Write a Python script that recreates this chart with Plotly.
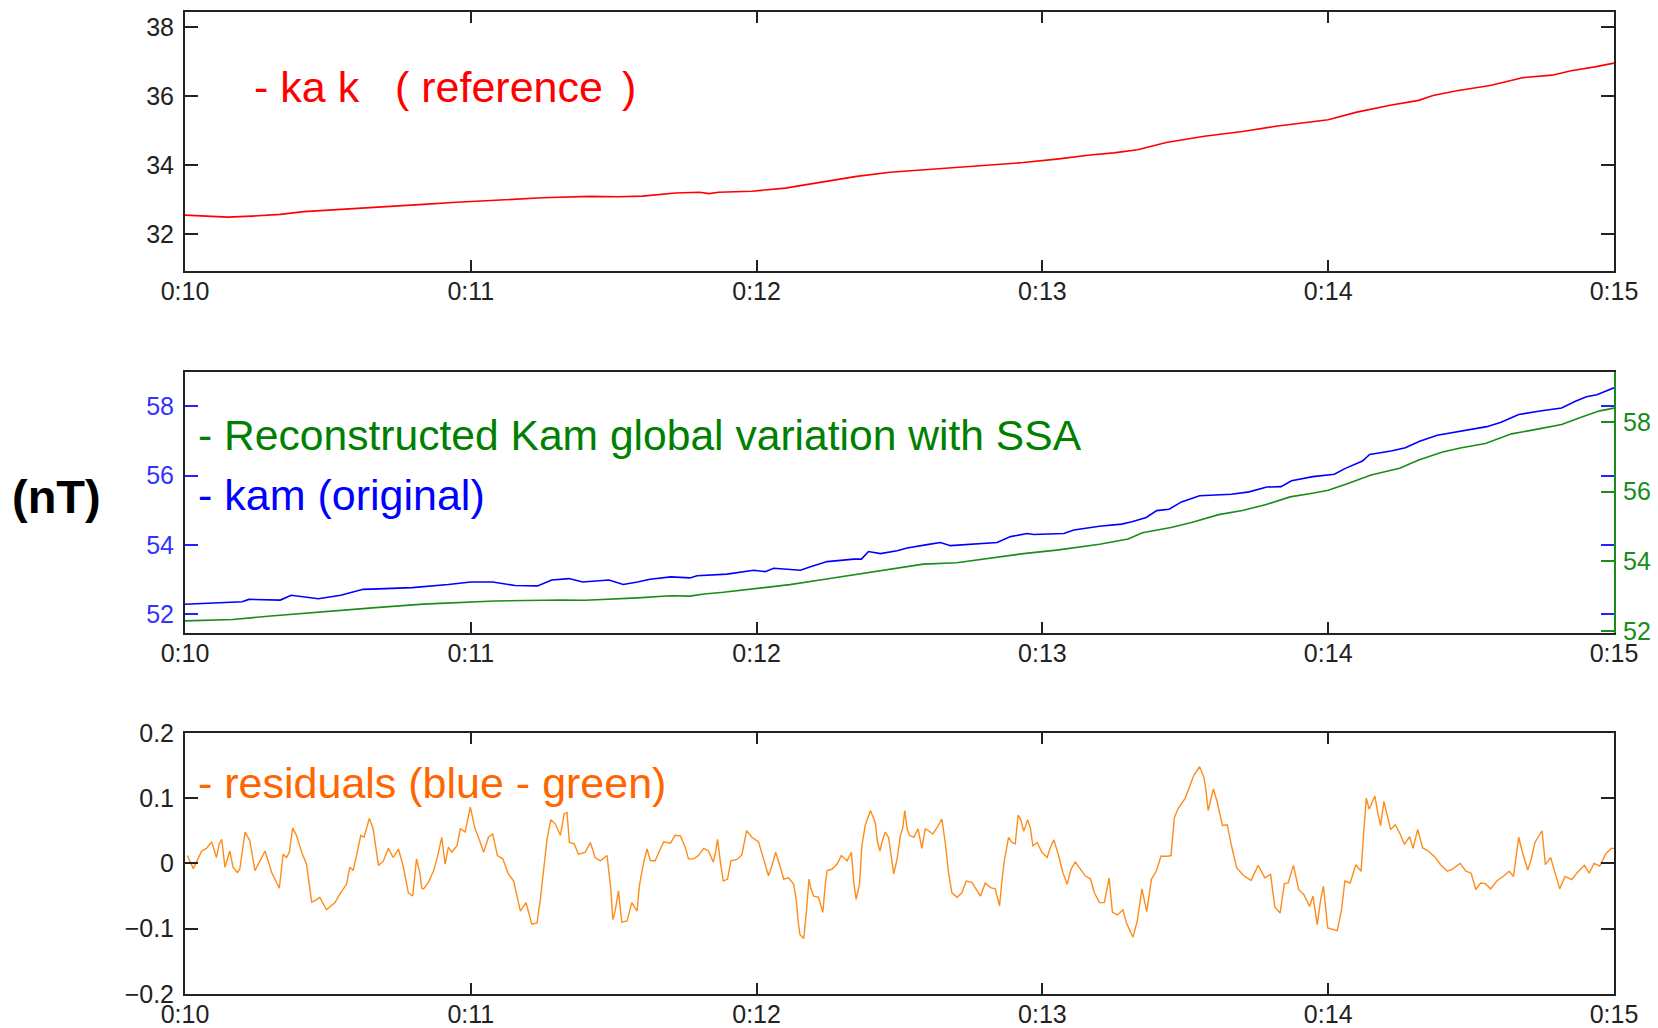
import plotly.graph_objects as go

# ---------------- data (seconds after 0:10, values in nT) ----------------
ref_t = [0, 5, 9, 14, 20, 25, 34, 41, 50, 57, 64, 68, 75, 85, 91, 96, 103, 108, 110, 112,
         119, 126, 134, 141, 148, 157, 166, 176, 183, 190, 195, 200, 206, 214, 222, 229,
         240, 246, 253, 259, 262, 267, 274, 281, 287, 291, 296, 300]
ref_v = [32.56, 32.53, 32.50, 32.53, 32.58, 32.66, 32.73, 32.78, 32.87, 32.93, 32.98, 33.03,
         33.06, 33.10, 33.09, 33.11, 33.20, 33.22, 33.18, 33.22, 33.25, 33.34, 33.51, 33.68,
         33.80, 33.89, 33.99, 34.08, 34.18, 34.30, 34.36, 34.45, 34.66, 34.84, 34.98, 35.13,
         35.32, 35.54, 35.74, 35.88, 36.02, 36.16, 36.31, 36.54, 36.61, 36.74, 36.85, 36.96]

kam_t = [0, 12, 13.4, 20, 22.3, 26, 28, 32.7, 37.4, 42, 47.7, 55.3, 60, 64.6, 69.3, 74, 77,
         80.6, 83.5, 89, 92, 95, 97.6, 102, 106, 107.5, 113.8, 119.4, 121.8, 123.6, 126.4,
         129.2, 131.3, 134.8, 140.4, 142, 143.5, 146, 149.5, 151.6, 155.8, 158.6, 160.7,
         164.2, 170.5, 173.3, 176.8, 178.2, 184.5, 186.6, 192, 196.6, 198.8, 201.8, 204,
         206.6, 209.2, 213, 219.7, 223.4, 227.1, 230.1, 232.3, 236.8, 241.3, 243.5, 247.2,
         248.7, 253.2, 256.2, 259.2, 262.9, 266.6, 269.6, 273.3, 276.3, 280, 284.5, 289,
         291.9, 294.2, 296.4, 300]
kam_v = [52.29, 52.36, 52.43, 52.41, 52.55, 52.48, 52.45, 52.55, 52.72, 52.74, 52.77, 52.86,
         52.93, 52.93, 52.83, 52.82, 52.99, 53.03, 52.93, 52.99, 52.86, 52.93, 53.01, 53.08,
         53.05, 53.11, 53.16, 53.27, 53.23, 53.33, 53.30, 53.27, 53.37, 53.52, 53.59, 53.59,
         53.81, 53.75, 53.83, 53.91, 54.01, 54.07, 53.98, 54.01, 54.07, 54.24, 54.33, 54.30,
         54.33, 54.43, 54.54, 54.60, 54.67, 54.79, 54.99, 55.03, 55.24, 55.42, 55.46, 55.53,
         55.67, 55.68, 55.85, 55.97, 56.04, 56.20, 56.42, 56.61, 56.71, 56.80, 56.99, 57.16,
         57.25, 57.33, 57.41, 57.54, 57.76, 57.86, 57.95, 58.14, 58.27, 58.33, 58.53]

ssa_t = [0, 10, 18, 25, 33, 40, 50, 60, 65, 79, 84, 95, 102, 106, 109, 113, 120, 127, 134,
         141, 148, 155, 162, 169, 176, 183, 190, 192, 198, 201, 207, 211.5, 217, 222, 227,
         232, 237, 240, 244, 249, 255, 259, 264, 268, 273, 278.5, 284.5, 289, 293.4, 297, 300]
ssa_v = [52.29, 52.33, 52.43, 52.51, 52.58, 52.67, 52.77, 52.82, 52.86, 52.89, 52.88, 52.95,
         53.01, 53.00, 53.06, 53.11, 53.23, 53.33, 53.48, 53.63, 53.77, 53.92, 53.96, 54.09,
         54.22, 54.32, 54.44, 54.49, 54.64, 54.82, 54.97, 55.12, 55.34, 55.46, 55.63, 55.85,
         55.96, 56.04, 56.23, 56.48, 56.67, 56.91, 57.14, 57.26, 57.38, 57.66, 57.81, 57.93,
         58.15, 58.32, 58.40]

res_t = [0.5, 1.75, 2.4, 3.5, 4.5, 5.6, 6.6, 7.2, 7.7, 8.4, 9.4, 10.1, 11.0, 11.5, 12.6, 13.6,
         14.7, 15.7, 16.8, 18.2, 19.8, 20.6, 21.3, 21.9, 22.6, 23.4, 24.5, 25.5, 26.6, 27.3,
         28.3, 29.7, 31.5, 32.5, 33.9, 34.6, 35.3, 36.0, 36.9, 37.6, 38.7, 39.5, 40.6, 41.6,
         42.7, 43.7, 44.8, 45.8, 46.9, 47.8, 48.6, 49.3, 49.7, 50.1, 51.1, 52.2, 52.9, 53.6,
         53.9, 54.6, 55.3, 56.0, 57.1, 57.8, 58.8, 59.9, 60.9, 61.6, 62.7, 63.7, 64.6, 65.6,
         66.7, 67.9, 69.0, 70.4, 71.6, 72.8, 73.9, 74.6, 75.3, 76.0, 76.8, 77.7, 78.8, 79.6,
         80.2, 80.7, 81.7, 82.6, 84.0, 85.1, 86.1, 87.2, 88.6, 89.4, 89.8, 90.3, 91.0, 91.7,
         92.8, 93.8, 94.9, 95.4, 96.3, 97.0, 97.7, 98.7, 99.8, 100.5, 101.9, 102.9, 104.0,
         105.0, 105.7, 106.8, 107.8, 108.9, 109.9, 110.9, 111.3, 111.8, 112.4, 113.0, 113.9,
         114.6, 115.9, 116.9, 117.9, 119.0, 120.4, 121.5, 122.5, 123.2, 124.0, 124.9, 125.7,
         126.7, 127.8, 128.4, 128.7, 129.1, 129.9, 130.5, 131.0, 131.4, 132.0, 133.0, 133.9,
         134.4, 134.8, 135.8, 136.9, 137.8, 139.0, 139.9, 140.4, 140.9, 141.6, 142.1, 142.8,
         143.9, 144.9, 145.4, 145.9, 146.3, 147.0, 147.7, 148.2, 148.8, 149.5, 150.2, 150.7,
         151.1, 151.6, 152.1, 153.0, 153.9, 154.7, 155.4, 156.1, 157.0, 157.9, 158.9, 159.6,
         160.3, 161.0, 162.1, 163.1, 164.0, 165.2, 165.9, 167.0, 168.0, 169.1, 170.1, 171.0,
         171.5, 172.0, 172.9, 173.6, 174.3, 174.9, 175.5, 176.1, 176.9, 177.5, 178.0, 178.9,
         179.9, 181.0, 181.7, 182.4, 183.4, 184.3, 185.2, 186.0, 186.9, 188.0, 189.0, 190.1,
         190.9, 192.0, 193.0, 194.0, 194.7, 195.8, 196.9, 197.7, 199.0, 199.9, 200.9, 201.9,
         202.9, 203.9, 204.9, 206.3, 207.0, 207.7, 208.5, 210.0, 210.9, 211.8, 213.0, 213.9,
         214.3, 214.8, 215.9, 216.7, 217.8, 218.8, 219.7, 220.8, 222.3, 223.8, 225.3, 226.7,
         227.9, 228.8, 229.9, 230.8, 231.6, 232.7, 233.8, 234.9, 236.1, 236.8, 237.7, 238.4,
         239.0, 239.9, 241.9, 242.8, 243.5, 244.6, 245.8, 246.9, 247.4, 248.0, 248.6, 249.8,
         250.4, 251.0, 251.7, 252.6, 253.1, 254.1, 255.1, 256.0, 257.1, 257.8, 258.8, 259.8,
         261.0, 262.5, 263.6, 265.0, 266.0, 267.7, 268.9, 270.0, 271.0, 272.0, 273.0, 274.1,
         275.4, 276.7, 278.0, 278.9, 280.0, 280.8, 281.9, 282.6, 283.4, 284.9, 285.6, 286.7,
         287.6, 288.6, 289.7, 291.1, 292.3, 293.8, 294.8, 295.8, 297.0, 298.3, 299.4, 300.0]
res_v = [0.012, -0.008, 0.002, 0.019, 0.023, 0.033, 0.009, 0.030, 0.037, -0.006, 0.019, -0.006,
         -0.014, -0.009, 0.048, 0.035, -0.011, 0.004, 0.019, -0.014, -0.038, 0.014, 0.009, 0.017,
         0.054, 0.043, 0.017, -0.001, -0.059, -0.057, -0.052, -0.071, -0.060, -0.047, -0.032,
         -0.006, -0.011, 0.012, 0.043, 0.040, 0.069, 0.053, -0.003, 0.003, 0.023, 0.009, 0.022,
         -0.004, -0.045, -0.050, 0.007, -0.014, -0.038, -0.039, -0.029, -0.011, 0.007, 0.030,
         0.040, -0.001, 0.025, 0.017, 0.027, 0.053, 0.048, 0.086, 0.053, 0.040, 0.017, 0.040,
         0.045, 0.012, 0.007, -0.016, -0.027, -0.073, -0.060, -0.093, -0.091, -0.055, -0.004,
         0.037, 0.067, 0.061, 0.043, 0.076, 0.078, 0.032, 0.030, 0.014, 0.017, 0.032, 0.009,
         0.004, 0.012, -0.039, -0.086, -0.073, -0.042, -0.090, -0.088, -0.060, -0.073, -0.034,
         0.002, 0.022, 0.004, 0.004, 0.022, 0.033, 0.031, 0.043, 0.042, 0.025, 0.007, 0.007,
         0.012, 0.023, 0.019, 0.002, 0.014, 0.037, 0.002, -0.027, -0.024, 0.004, 0.006, 0.013,
         0.050, 0.040, 0.033, 0.004, -0.019, -0.004, 0.017, -0.004, -0.024, -0.022, -0.032,
         -0.060, -0.088, -0.109, -0.115, -0.070, -0.024, -0.039, -0.050, -0.052, -0.075, -0.034,
         -0.011, -0.009, -0.001, 0.012, 0.004, 0.017, -0.029, -0.055, -0.032, 0.027, 0.058,
         0.081, 0.063, 0.032, 0.019, 0.032, 0.048, 0.040, 0.012, -0.016, 0.007, 0.043, 0.055,
         0.081, 0.053, 0.043, 0.040, 0.053, 0.023, 0.053, 0.050, 0.045, 0.055, 0.068, 0.032,
         -0.014, -0.045, -0.052, -0.045, -0.027, -0.029, -0.038, -0.050, -0.030, -0.037, -0.039,
         -0.065, -0.027, 0.004, 0.040, 0.032, 0.030, 0.074, 0.066, 0.049, 0.067, 0.053, 0.027,
         0.032, 0.017, 0.009, 0.025, 0.036, 0.012, -0.014, -0.032, -0.009, 0.002, -0.009, -0.019,
         -0.024, -0.045, -0.060, -0.060, -0.022, -0.075, -0.079, -0.071, -0.092, -0.113, -0.089,
         -0.039, -0.074, -0.024, -0.012, 0.011, 0.011, 0.012, 0.070, 0.084, 0.100, 0.119, 0.135,
         0.148, 0.132, 0.114, 0.081, 0.114, 0.094, 0.058, 0.059, 0.027, -0.007, -0.019, -0.026,
         -0.003, -0.022, -0.017, -0.067, -0.076, -0.031, -0.030, -0.003, -0.040, -0.048, -0.066,
         -0.050, -0.094, -0.056, -0.035, -0.099, -0.103, -0.071, -0.027, -0.030, -0.002, -0.012,
         0.042, 0.100, 0.083, 0.103, 0.078, 0.058, 0.095, 0.068, 0.052, 0.059, 0.045, 0.029,
         0.041, 0.023, 0.052, 0.024, 0.019, 0.009, -0.002, -0.012, -0.009, 0.000, -0.012, -0.015,
         -0.040, -0.030, -0.031, -0.039, -0.027, -0.020, -0.012, -0.020, 0.040, 0.016, -0.010,
         0.006, 0.032, 0.050, -0.002, 0.009, -0.014, -0.039, -0.020, -0.025, -0.014, -0.003,
         -0.015, 0.000, -0.004, 0.015, 0.023, 0.023]

x_tickvals = [10, 11, 12, 13, 14, 15]
x_ticktext = ["0:10", "0:11", "0:12", "0:13", "0:14", "0:15"]


def minutes(ts):
    return [10 + t / 60.0 for t in ts]


W, H = 1658, 1028
FONT = "Liberation Sans, Arial, sans-serif"
TICKFONT = dict(family=FONT, size=25, color="#222222")

fig = go.Figure()
fig.add_trace(go.Scatter(x=minutes(ref_t), y=ref_v, mode="lines",
                         line=dict(color="#ff0000", width=1.6), xaxis="x", yaxis="y"))
fig.add_trace(go.Scatter(x=minutes(kam_t), y=kam_v, mode="lines",
                         line=dict(color="#0000ff", width=1.6), xaxis="x2", yaxis="y2"))
fig.add_trace(go.Scatter(x=minutes(ssa_t), y=ssa_v, mode="lines",
                         line=dict(color="#1a8c1a", width=1.6), xaxis="x2", yaxis="y4"))
fig.add_trace(go.Scatter(x=minutes(res_t), y=res_v, mode="lines",
                         line=dict(color="#ff8c1a", width=1.4), xaxis="x3", yaxis="y3"))

xdom = [185 / W, 1614 / W]


def ydom(top, bottom):
    return [1 - bottom / H, 1 - top / H]


def xax(anchor, mirror):
    return dict(domain=xdom, anchor=anchor, range=[10, 15], tickmode="array",
                tickvals=x_tickvals, ticktext=x_ticktext, ticks="inside", ticklen=11,
                tickwidth=2, tickcolor="#222222", showline=True, linecolor="#222222",
                linewidth=2, mirror=mirror, showgrid=False, zeroline=False,
                tickfont=TICKFONT, ticklabelstandoff=-3, automargin=False)


fig.update_layout(
    width=W, height=H, margin=dict(l=0, r=0, t=0, b=0, autoexpand=False),
    paper_bgcolor="white", plot_bgcolor="white", showlegend=False,
    xaxis=xax("y", "ticks"),
    xaxis2=xax("y2", True),
    xaxis3=xax("y3", "ticks"),
    yaxis=dict(domain=ydom(11.6, 270.7), anchor="x", range=[30.95, 38.45],
               tickvals=[32, 34, 36, 38], ticks="inside", ticklen=13, tickwidth=2,
               tickcolor="#222222", showline=True, linecolor="#222222", linewidth=2,
               mirror="ticks", showgrid=False, zeroline=False, tickfont=TICKFONT,
               ticklabelstandoff=4, automargin=False),
    yaxis2=dict(domain=ydom(372.2, 633.4), anchor="x2", range=[51.45, 58.98],
                tickvals=[52, 54, 56, 58], ticks="inside", ticklen=13, tickwidth=2,
                tickcolor="#2222ff", showline=True, linecolor="#222222", linewidth=2,
                mirror="ticks", showgrid=False, zeroline=False,
                tickfont=dict(family=FONT, size=25, color="#3333ff"), ticklabelstandoff=4,
                automargin=False),
    yaxis4=dict(overlaying="y2", side="right", anchor="x2", range=[51.93, 59.43],
                tickvals=[52, 54, 56, 58], ticks="inside", ticklen=13, tickwidth=2,
                tickcolor="#1a8c1a", showline=True, linecolor="#1a8c1a", linewidth=2,
                showgrid=False, zeroline=False,
                tickfont=dict(family=FONT, size=25, color="#1a8c1a"), ticklabelstandoff=2,
                automargin=False),
    yaxis3=dict(domain=ydom(732.8, 994), anchor="x3", range=[-0.2, 0.2],
                tickvals=[-0.2, -0.1, 0, 0.1, 0.2],
                ticktext=["\u22120.2", "\u22120.1", "0", "0.1", "0.2"],
                ticks="inside", ticklen=13, tickwidth=2, tickcolor="#222222", showline=True,
                linecolor="#222222", linewidth=2, mirror="ticks", showgrid=False,
                zeroline=False, tickfont=TICKFONT, ticklabelstandoff=4, automargin=False),
)


def note(text, x_px, y_px, color, size=43, bold=False):
    fig.add_annotation(text=f"<b>{text}</b>" if bold else text, xref="paper", yref="paper",
                       x=x_px / W, y=1 - y_px / H, xanchor="left", yanchor="middle",
                       showarrow=False, font=dict(family=FONT, size=size, color=color))


note("- ka k\u00a0\u00a0\u00a0(\u00a0reference\u00a0\u2006)", 252, 87, "#ff0000")
note("- Reconstructed Kam global variation with SSA", 196, 435, "#008000", size=42.6)
note("- kam (original)", 196, 495, "#0000ff")
note("- residuals (blue - green)", 196, 783, "#ff6600")
note("(nT)", 10, 496, "#000000", size=47, bold=True)

fig.write_html("out.html")
